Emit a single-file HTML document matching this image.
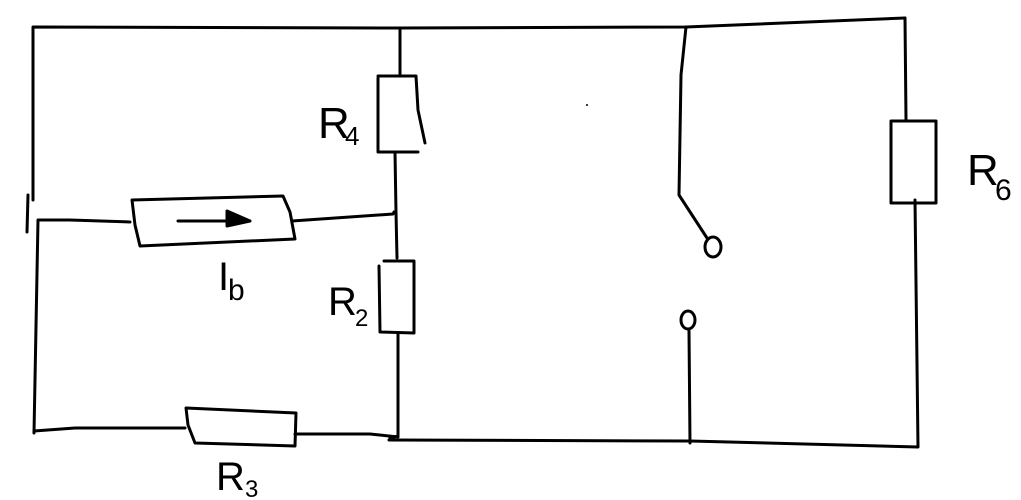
<!DOCTYPE html>
<html><head><style>
html,body{margin:0;padding:0;background:#fff;}
svg{display:block;}
text{font-family:"Liberation Sans",sans-serif;fill:#000;}
</style></head><body>
<svg width="1021" height="500" viewBox="0 0 1021 500" xmlns="http://www.w3.org/2000/svg">
<g fill="none" stroke="#000" stroke-width="3" stroke-linecap="round" stroke-linejoin="round">
<polyline points="33,200 33,27 400,28 686,27 905,18"/>
<polyline points="28,195 27,232"/>
<polyline points="130,222 70,220 38,220 34,433"/>
<polyline points="34,431 75,428 185,428"/>
<polygon points="132,200 283,196 290,212 295,239 140,246 135,225"/>
<line x1="178" y1="221" x2="230" y2="221"/>
<polygon points="227,211 250,221 227,226" fill="#000"/>
<polyline points="292,221 393,214 394,212"/>
<polyline points="400,28 400,75"/>
<polyline points="378,78 378,152 418,152"/>
<polyline points="378,76 416,76 418,110 425,143"/>
<polyline points="395,152 396,212 397,258"/>
<polyline points="384,261 414,261 414,333 380,332 379,266"/>
<polyline points="398,333 398,436 390,438"/>
<polygon points="186,408 296,413 295,446 195,443 188,425"/>
<polyline points="295,434 370,434 398,437"/>
<polyline points="389,440 690,441 918,447 915,200"/>
<polyline points="905,18 906,120"/>
<rect x="891" y="121" width="45" height="82"/>
<polyline points="686,27 681,75 679,195 707,238"/>
<ellipse cx="713" cy="247" rx="8" ry="10"/>
<ellipse cx="688" cy="320" rx="7" ry="9"/>
<polyline points="689,331 690,443"/>
</g>
<circle cx="587" cy="105" r="1" fill="#000"/>
<text x="318" y="138" font-size="44">R</text><text x="345" y="145" font-size="26">4</text>
<text x="328" y="315" font-size="40">R</text><text x="355" y="326" font-size="24">2</text>
<text x="216" y="490" font-size="40">R</text><text x="245" y="497" font-size="24">3</text>
<text x="967" y="185" font-size="44">R</text><text x="995" y="200" font-size="30">6</text>
<text x="218" y="290" font-size="40">I</text><text x="228" y="300" font-size="30">b</text>
</svg>
</body></html>
